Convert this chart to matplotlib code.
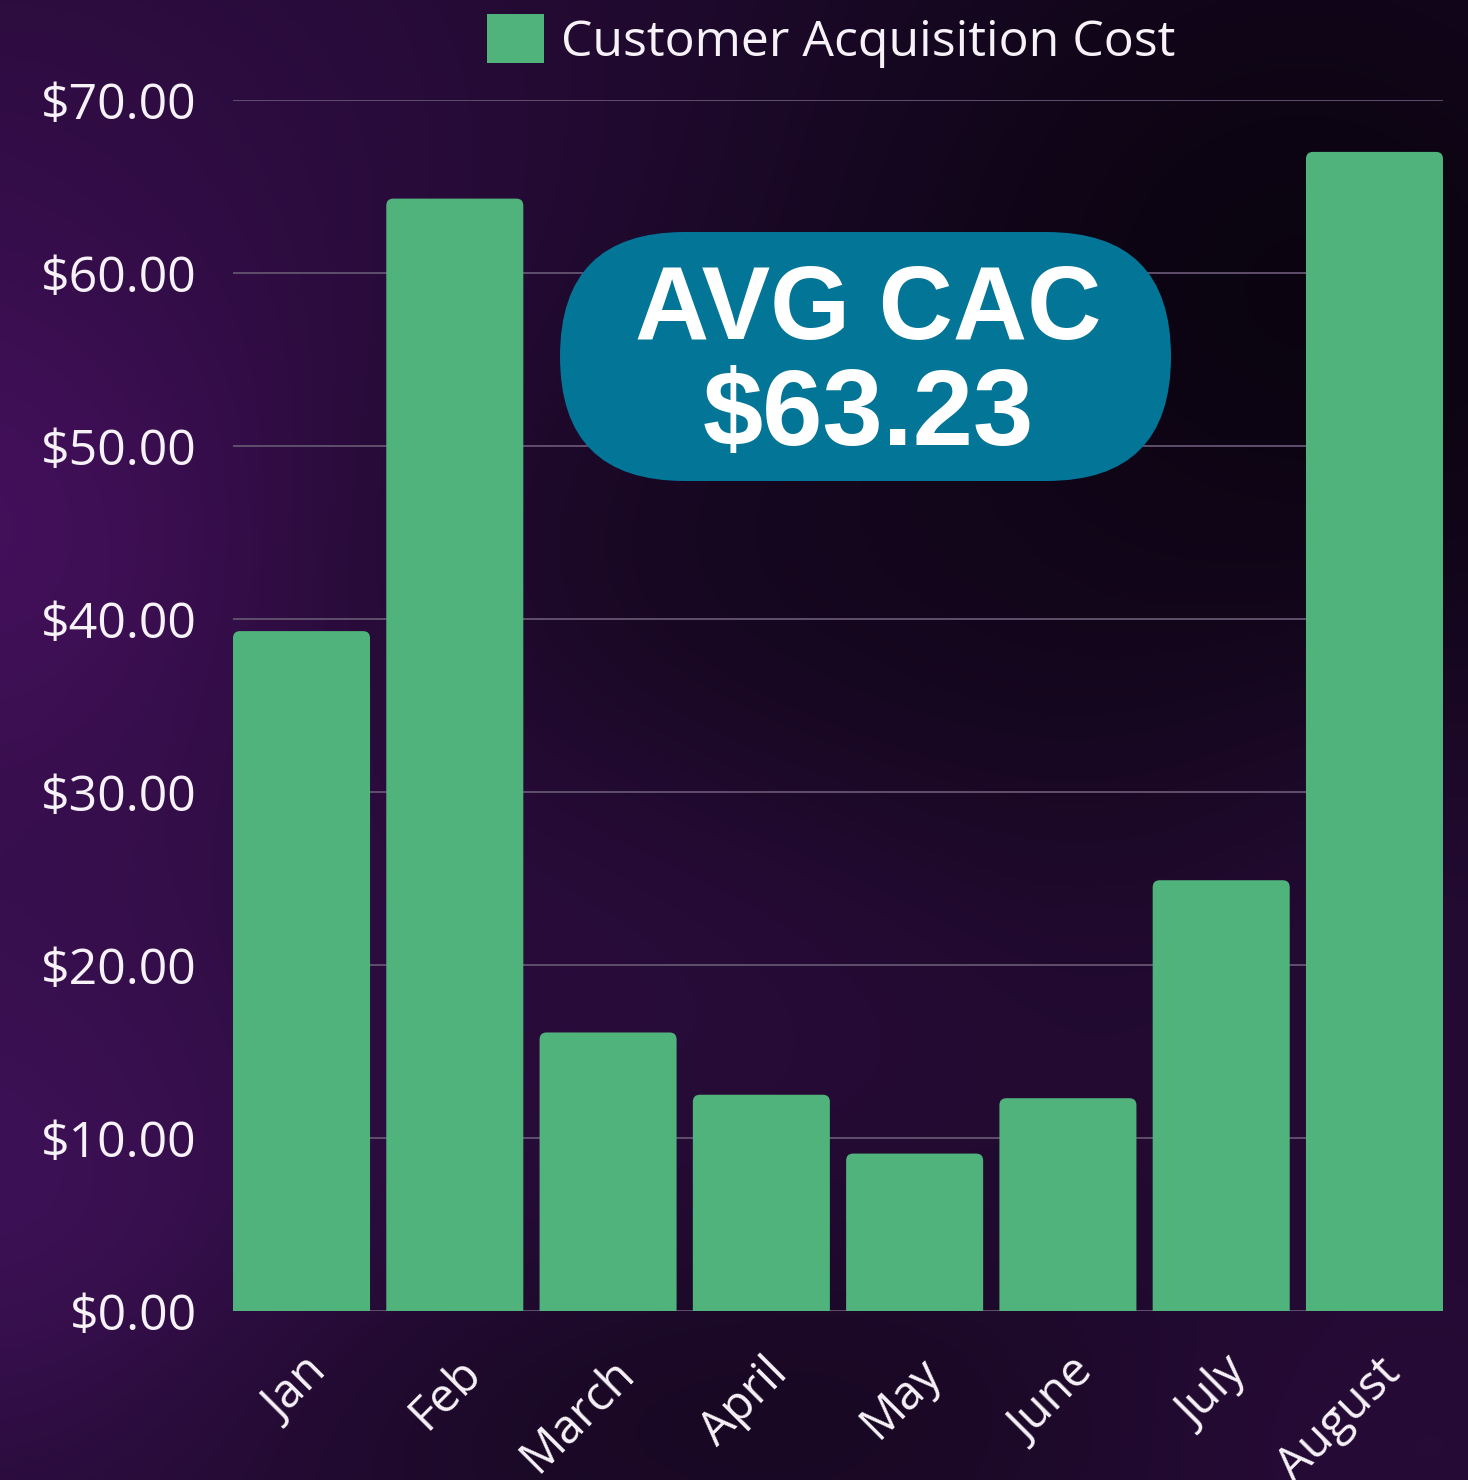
import numpy as np
import matplotlib
matplotlib.use("Agg")
import matplotlib.pyplot as plt
from matplotlib.patches import FancyBboxPatch, Patch
from matplotlib.ticker import FuncFormatter
import matplotlib.transforms as mtransforms

# ---- data ----
months = ["Jan", "Feb", "March", "April", "May", "June", "July", "August"]
cac = [39.3, 64.3, 16.1, 12.5, 9.1, 12.3, 24.9, 67.0]
y_ticks = [0, 10, 20, 30, 40, 50, 60, 70]
series_name = "Customer Acquisition Cost"
badge_title = "AVG CAC"
badge_value = "$63.23"

BAR = "#50B37C"
BADGE = "#037597"
GRID = "#5f4f6c"
TXT = "#F7F2F7"

W, H = 1468, 1480
DPI = 100
fig = plt.figure(figsize=(W / DPI, H / DPI), dpi=DPI)

# ---- background: dark purple wash ----
bg = fig.add_axes([0, 0, 1, 1], zorder=-10)
yy, xx = np.mgrid[0:H:4, 0:W:4].astype(float)
img = np.zeros(xx.shape + (3,))
base = np.array(matplotlib.colors.to_rgb("#1f0a2e"))
img[:] = base


def blob(img, cx, cy, sx, sy, color, strength):
    a = strength * np.exp(-(((xx - cx) / sx) ** 2 + ((yy - cy) / sy) ** 2) / 2)
    c = np.array(matplotlib.colors.to_rgb(color))
    return img * (1 - a[..., None]) + c * a[..., None]


img = blob(img, 0, 480, 260, 320, "#4a1163", 0.95)
img = blob(img, 0, 1150, 260, 260, "#43125e", 0.9)
img = blob(img, 250, 150, 350, 250, "#2e0c42", 0.6)
img = blob(img, 700, 950, 500, 200, "#2f0d42", 0.7)
img = blob(img, 1300, 350, 380, 420, "#08030c", 0.9)
img = blob(img, 850, 560, 300, 160, "#12061a", 0.6)
img = blob(img, 850, 1420, 420, 120, "#14071c", 0.6)
img = blob(img, 1400, 1000, 200, 250, "#2a0c3a", 0.6)
img = blob(img, 1400, 1450, 250, 150, "#2c0c3e", 0.6)
bg.imshow(np.clip(img, 0, 1), extent=[0, W, H, 0], aspect="auto", interpolation="bilinear")
bg.set_xlim(0, W)
bg.set_ylim(H, 0)
bg.axis("off")

# ---- bar chart ----
left, right, top, bottom = 233, 1443, 100, 1311
ax = fig.add_axes([left / W, (H - bottom) / H, (right - left) / W, (bottom - top) / H])
ax.patch.set_alpha(0)

bw = 0.894
x = np.arange(len(months))
bars = ax.bar(x, cac, width=bw, color=BAR, zorder=3)
ax.set_xlim(-bw / 2, len(months) - 1 + bw / 2)
ax.set_ylim(0, 70)

# rounded top corners: rebuild each bar as a rounded box of the same geometry
px_per_x = (right - left) / (ax.get_xlim()[1] - ax.get_xlim()[0])
px_per_y = (bottom - top) / (ax.get_ylim()[1] - ax.get_ylim()[0])
radius_px = 7
rx = radius_px / px_per_x
aspect = px_per_x / px_per_y
for b in bars:
    b.set_visible(False)
    ry = rx * aspect
    rb = FancyBboxPatch((b.get_x(), -ry), b.get_width(), b.get_height() + ry,
                        boxstyle=f"round,pad=0,rounding_size={rx}",
                        mutation_aspect=aspect, facecolor=BAR, edgecolor="none",
                        zorder=3, clip_on=True)
    ax.add_patch(rb)

ax.set_yticks(y_ticks)
ax.yaxis.set_major_formatter(FuncFormatter(lambda v, p: f"${v:,.2f}"))
ax.grid(axis="y", color=GRID, linewidth=1.4, zorder=0)
ax.set_axisbelow(True)
for s in ax.spines.values():
    s.set_visible(False)
ax.tick_params(axis="both", length=0, colors=TXT)
ax.tick_params(axis="y", pad=26, labelsize=36)

ax.set_xticks(x)
ax.set_xticklabels(months, fontsize=34, rotation=45, ha="right", va="center",
                   rotation_mode="anchor", color=TXT)
ax.tick_params(axis="x", pad=0)
offset = mtransforms.ScaledTranslation(19 / DPI, -55 / DPI, fig.dpi_scale_trans)
for lbl in ax.get_xticklabels():
    lbl.set_transform(lbl.get_transform() + offset)
    lbl.set_fontfamily("Open Sans")
for lbl in ax.get_yticklabels():
    lbl.set_fontfamily("Open Sans")
    lbl.set_color(TXT)

leg = ax.legend(handles=[Patch(facecolor=BAR, edgecolor="none", label=series_name)],
                loc="lower center", bbox_to_anchor=(0.494, 1.0), frameon=False,
                prop={"family": "Open Sans", "size": 36}, handlelength=1.15,
                handleheight=1.15, handletextpad=0.33, borderaxespad=0.25)
for t in leg.get_texts():
    t.set_color(TXT)

# ---- average badge ----
ov = fig.add_axes([0, 0, 1, 1], zorder=10)
ov.set_xlim(0, W)
ov.set_ylim(H, 0)
ov.axis("off")
ov.patch.set_alpha(0)
bx0, by0, bx1, by1 = 560, 232, 1171, 481
ov.add_patch(FancyBboxPatch((bx0, by0), bx1 - bx0, by1 - by0,
                            boxstyle=f"round,pad=0,rounding_size={(by1 - by0) / 2}",
                            facecolor=BADGE, edgecolor="none"))
ov.text(868, 312, badge_title, ha="center", va="center", color="white",
        fontsize=74, fontweight="bold", family="Liberation Sans")
ov.text(868, 417, badge_value, ha="center", va="center", color="white",
        fontsize=78, fontweight="bold", family="Liberation Sans")

fig.savefig("out.png", dpi=DPI)
